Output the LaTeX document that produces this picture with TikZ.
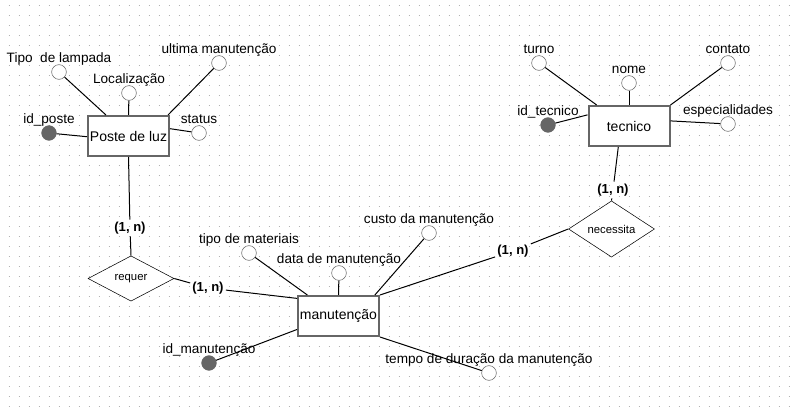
\documentclass[tikz,border=0pt]{standalone}
\usepackage{fontspec}
\setmainfont{Liberation Sans}
\usetikzlibrary{shapes.geometric}
\begin{document}
\begin{tikzpicture}[
    x=0.75pt, y=-0.75pt,
    ent/.style={rectangle, draw=black!60, line width=1.5pt, fill=white, minimum width=60.75pt, minimum height=30pt, inner sep=0pt, font=\fontsize{10.5}{12}\selectfont},
    rel/.style={diamond, draw, fill=white, minimum width=64.5pt, minimum height=34pt, inner sep=0pt, font=\fontsize{8.5}{10}\selectfont},
    attr/.style={circle, draw=black!60, fill=white, minimum size=11pt, inner sep=0pt, label distance=-1.3pt},
    keyattr/.style={attr, fill=black!60},
    card/.style={font=\bfseries\fontsize{9.8}{11}\selectfont, inner sep=1.5pt},
    lnk/.style={line width=0.75pt},
    gridpt/.style={black!30, line width=0.75pt, dash pattern=on 0.75pt off 6.75pt},
    every label/.style={font=\fontsize{10.2}{12}\selectfont, inner sep=0pt, text height=1.5ex, text depth=0.3ex},
]
\useasboundingbox (0,0) rectangle (790,410);
% dotted background
\foreach \y in {6,16,...,406}
    \draw[gridpt] (8.5,\y) -- (790,\y);

% entities
\node[ent] (poste) at (128.5,136) {Poste de luz};
\node[ent] (manut) at (338.5,316) {manutenção};
\node[ent] (tecnico) at (629,126) {tecnico};

% relationships
\node[rel] (requer) at (131,278.5) {requer};
\node[rel] (necessita) at (611.5,229) {necessita};

% cardinalities
\node[card] (c1) at (130,228) {(1, n)};
\node[card] (c2) at (208,288) {(1, n)};
\node[card] (c3) at (513,251) {(1, n)};
\node[card] (c4) at (613,190) {(1, n)};

% attributes of Poste de luz
\node[attr, label=above:{Tipo\ \ de lampada}] (tipolamp) at (59,72) {};
\node[attr, label=above:{Localização}] (local) at (129,93) {};
\node[attr, label=above:{ultima manutenção}] (ultima) at (219,63) {};
\node[attr, label=above:{status}] (status) at (199,133) {};
\node[keyattr, label=above:{id\_poste}] (idposte) at (49,133) {};

% attributes of manutencao
\node[attr, label=above:{tipo de materiais}] (tipomat) at (249,253) {};
\node[attr, label=above:{data de manutenção}] (data) at (339,273) {};
\node[attr, label=above:{custo da manutenção}] (custo) at (429,233) {};
\node[attr, label=above:{tempo de duração da manutenção}] (tempo) at (489,373) {};
\node[keyattr, label=above:{id\_manutenção}] (idmanut) at (209,363) {};

% attributes of tecnico
\node[attr, label=above:{turno}] (turno) at (539,63) {};
\node[attr, label=above:{nome}] (nome) at (629,83) {};
\node[attr, label=above:{contato}] (contato) at (728,63) {};
\node[attr, label=above:{especialidades}] (espec) at (728,124) {};
\node[keyattr, label=above:{id\_tecnico}] (idtec) at (548,125) {};

% connectors
\draw[lnk] (tipolamp) -- (poste.137);
\draw[lnk] (local) -- (poste.north);
\draw[lnk] (ultima) -- (poste.28);
\draw[lnk] (status) -- (poste.10);
\draw[lnk] (idposte) -- (poste.181);
\draw[lnk] (tipomat) -- (manut.146);
\draw[lnk] (data) -- (manut.north);
\draw[lnk] (custo) -- (manut.30);
\draw[lnk] (tempo) -- (manut.south east);
\draw[lnk] (idmanut) -- (manut.198);
\draw[lnk] (turno) -- (tecnico.147);
\draw[lnk] (nome) -- (tecnico.north);
\draw[lnk] (contato) -- (tecnico.north east);
\draw[lnk] (espec) -- (tecnico.7);
\draw[lnk] (idtec) -- (tecnico.165);
\draw[lnk] (poste.south) -- (c1) -- (requer.north);
\draw[lnk] (requer.east) -- (c2) -- (manut.157);
\draw[lnk] (manut.north east) -- (c3) -- (necessita.west);
\draw[lnk] (tecnico.243) -- (c4) -- (necessita.north);
\end{tikzpicture}
\end{document}
